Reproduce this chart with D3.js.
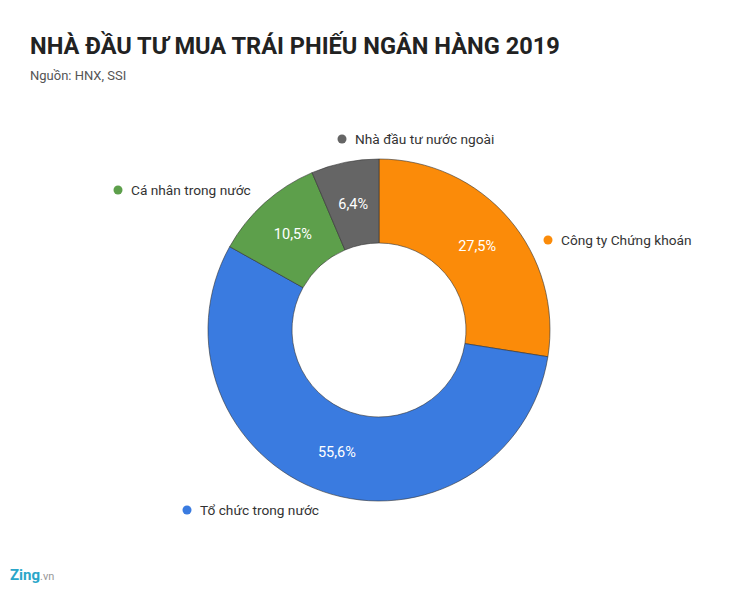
<!DOCTYPE html>
<html><head><meta charset="utf-8">
<script src="https://cdn.jsdelivr.net/npm/d3@7"></script>
<style>body{margin:0;background:#fff;font-family:Roboto,"Noto Sans",sans-serif}</style>
</head><body><svg id="c" width="750" height="590"></svg>
<script>
const categories=["Công ty Chứng khoán","Tổ chức trong nước","Cá nhân trong nước","Nhà đầu tư nước ngoài"];
const values=[27.5,55.6,10.5,6.4];
const labels=["27,5%","55,6%","10,5%","6,4%"];
const colors=["#fb8b09","#3a7be0","#5d9f4b","#656565"];
const legendPos=[[548,240],[187,510],[118,190],[342,139]];
const svg=d3.select("#c");
svg.append("text").attr("x",30).attr("y",54).attr("font-size",23.6).attr("font-weight",700).attr("fill","#222").text("NHÀ ĐẦU TƯ MUA TRÁI PHIẾU NGÂN HÀNG 2019");
svg.append("text").attr("x",30).attr("y",80).attr("font-size",13).attr("fill","#555").text("Nguồn: HNX, SSI");
const cx=379,cy=330,R=171,r=87;
const pie=d3.pie().sort(null)(values);
const arc=d3.arc().innerRadius(r).outerRadius(R);
const g=svg.append("g").attr("transform",`translate(${cx},${cy})`);
g.selectAll("path").data(pie).join("path").attr("d",arc).attr("fill",(d,i)=>colors[i]).attr("stroke","#333").attr("stroke-width",0.6);
const la=d3.arc().innerRadius((R+r)/2).outerRadius((R+r)/2);
g.selectAll("text.v").data(pie).join("text").attr("transform",d=>`translate(${la.centroid(d)})`).attr("dy","0.35em").attr("text-anchor","middle").attr("font-size",14.5).attr("fill","#fff").text((d,i)=>labels[i]);
categories.forEach((c,i)=>{const [x,y]=legendPos[i];
svg.append("circle").attr("cx",x).attr("cy",y).attr("r",4.5).attr("fill",colors[i]);
svg.append("text").attr("x",x+13).attr("y",y+5).attr("font-size",13.7).attr("fill","#333").text(c);});
const lg=svg.append("text").attr("x",10).attr("y",580).attr("font-size",15).attr("font-weight",700);
lg.append("tspan").attr("fill","#2aa6c9").text("Zing");
lg.append("tspan").attr("fill","#999").attr("font-weight",400).attr("font-size",11).text(".vn");
</script></body></html>
